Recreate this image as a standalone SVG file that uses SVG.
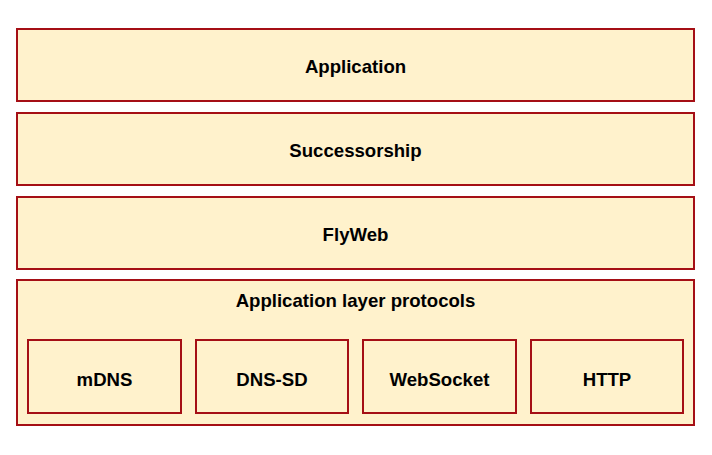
<svg xmlns="http://www.w3.org/2000/svg" width="712" height="455" viewBox="0 0 712 455">
<style>
.box{fill:#fff2cc;stroke:#a50f15;stroke-width:2}
.t{font-family:"Liberation Sans",Arial,sans-serif;font-weight:bold;font-size:18.6px;fill:#000;text-anchor:middle;dominant-baseline:central}
</style>
<rect width="712" height="455" fill="#fff"/>
<g id="application"><rect class="box" x="17" y="29" width="677" height="72"/><text class="t" x="355.5" y="66">Application</text></g>
<g id="successorship"><rect class="box" x="17" y="113" width="677" height="72"/><text class="t" x="355.5" y="150">Successorship</text></g>
<g id="flyweb"><rect class="box" x="17" y="197" width="677" height="72"/><text class="t" x="355.5" y="234">FlyWeb</text></g>
<g id="protocols"><rect class="box" x="17" y="280" width="677" height="145"/><text class="t" x="355.5" y="300">Application layer protocols</text></g>
<g id="mdns"><rect class="box" x="28" y="340" width="153" height="73"/><text class="t" x="104.5" y="379">mDNS</text></g>
<g id="dnssd"><rect class="box" x="196" y="340" width="152" height="73"/><text class="t" x="272" y="379">DNS-SD</text></g>
<g id="websocket"><rect class="box" x="363" y="340" width="153" height="73"/><text class="t" x="439.5" y="379">WebSocket</text></g>
<g id="http"><rect class="box" x="531" y="340" width="152" height="73"/><text class="t" x="607" y="379">HTTP</text></g>
<g id="connectors"></g>
</svg>
